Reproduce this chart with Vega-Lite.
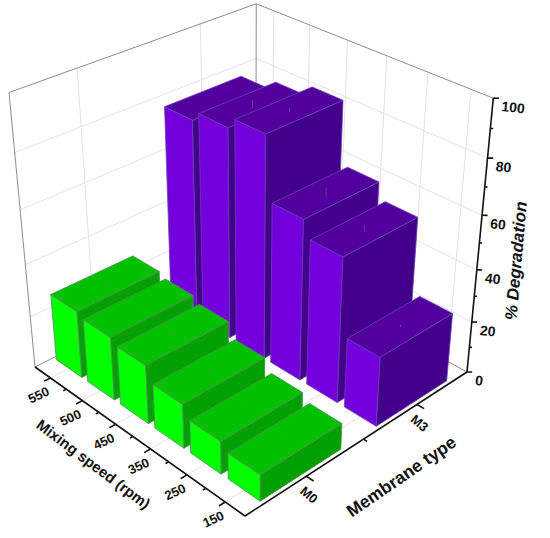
{"$schema":"https://vega.github.io/schema/vega-lite/v6.json","width":550,"height":538,"autosize":{"type":"fit","contains":"padding"},"padding":0,"background":"white","config":{"view":{"stroke":null}},
"datasets":{
"bars":[
{"membrane":"M3","speed":550,"degradation":76.5,"error":1.5},{"membrane":"M3","speed":500,"degradation":80,"error":1.5},{"membrane":"M3","speed":450,"degradation":84,"error":0.8},{"membrane":"M3","speed":350,"degradation":61,"error":1.8},{"membrane":"M3","speed":250,"degradation":55,"error":1.3},{"membrane":"M3","speed":150,"degradation":26.6,"error":0.5},
{"membrane":"M0","speed":550,"degradation":26,"error":0.8},{"membrane":"M0","speed":500,"degradation":24.5,"error":0.8},{"membrane":"M0","speed":450,"degradation":22.5,"error":0.8},{"membrane":"M0","speed":350,"degradation":17,"error":0.8},{"membrane":"M0","speed":250,"degradation":12.5,"error":0.6},{"membrane":"M0","speed":150,"degradation":10,"error":0.3}],
"guides":[
{"kind":"grid","a0":1,"b0":0,"z0":0.2,"a1":1,"b1":1,"z1":0.2},{"kind":"grid","a0":1,"b0":0,"z0":0.4,"a1":1,"b1":1,"z1":0.4},{"kind":"grid","a0":1,"b0":0,"z0":0.6,"a1":1,"b1":1,"z1":0.6},{"kind":"grid","a0":1,"b0":0,"z0":0.8,"a1":1,"b1":1,"z1":0.8},
{"kind":"grid","a0":0,"b0":1,"z0":0.2,"a1":1,"b1":1,"z1":0.2},{"kind":"grid","a0":0,"b0":1,"z0":0.4,"a1":1,"b1":1,"z1":0.4},{"kind":"grid","a0":0,"b0":1,"z0":0.6,"a1":1,"b1":1,"z1":0.6},{"kind":"grid","a0":0,"b0":1,"z0":0.8,"a1":1,"b1":1,"z1":0.8},
{"kind":"grid","a0":1,"b0":0.25,"z0":0,"a1":1,"b1":0.25,"z1":1},{"kind":"grid","a0":1,"b0":0.75,"z0":0,"a1":1,"b1":0.75,"z1":1},
{"kind":"grid","a0":0.0833,"b0":1,"z0":0,"a1":0.0833,"b1":1,"z1":1},{"kind":"grid","a0":0.25,"b0":1,"z0":0,"a1":0.25,"b1":1,"z1":1},{"kind":"grid","a0":0.4167,"b0":1,"z0":0,"a1":0.4167,"b1":1,"z1":1},{"kind":"grid","a0":0.5833,"b0":1,"z0":0,"a1":0.5833,"b1":1,"z1":1},{"kind":"grid","a0":0.75,"b0":1,"z0":0,"a1":0.75,"b1":1,"z1":1},{"kind":"grid","a0":0.9167,"b0":1,"z0":0,"a1":0.9167,"b1":1,"z1":1},
{"kind":"grid","a0":0.0833,"b0":0,"z0":0,"a1":0.0833,"b1":1,"z1":0},{"kind":"grid","a0":0.25,"b0":0,"z0":0,"a1":0.25,"b1":1,"z1":0},{"kind":"grid","a0":0.4167,"b0":0,"z0":0,"a1":0.4167,"b1":1,"z1":0},{"kind":"grid","a0":0.5833,"b0":0,"z0":0,"a1":0.5833,"b1":1,"z1":0},{"kind":"grid","a0":0.75,"b0":0,"z0":0,"a1":0.75,"b1":1,"z1":0},{"kind":"grid","a0":0.9167,"b0":0,"z0":0,"a1":0.9167,"b1":1,"z1":0},
{"kind":"grid","a0":0,"b0":0.25,"z0":0,"a1":1,"b1":0.25,"z1":0},{"kind":"grid","a0":0,"b0":0.75,"z0":0,"a1":1,"b1":0.75,"z1":0},
{"kind":"frame","a0":1,"b0":0,"z0":1,"a1":1,"b1":1,"z1":1},{"kind":"frame","a0":0,"b0":1,"z0":1,"a1":1,"b1":1,"z1":1},{"kind":"frame","a0":1,"b0":0,"z0":0,"a1":1,"b1":0,"z1":1},{"kind":"frame","a0":1,"b0":1,"z0":0,"a1":1,"b1":1,"z1":1},{"kind":"frame","a0":1,"b0":0,"z0":0,"a1":1,"b1":1,"z1":0},{"kind":"frame","a0":0,"b0":1,"z0":0,"a1":1,"b1":1,"z1":0},
{"kind":"axis","a0":0,"b0":0,"z0":0,"a1":1,"b1":0,"z1":0},{"kind":"axis","a0":0,"b0":0,"z0":0,"a1":0,"b1":1,"z1":0},{"kind":"axis","a0":0,"b0":1,"z0":0,"a1":0,"b1":1,"z1":1},
{"kind":"axis","a0":0.0833,"b0":0,"z0":0,"a1":0.0833,"b1":-0.025,"z1":0},{"kind":"axis","a0":0.25,"b0":0,"z0":0,"a1":0.25,"b1":-0.025,"z1":0},{"kind":"axis","a0":0.4167,"b0":0,"z0":0,"a1":0.4167,"b1":-0.025,"z1":0},{"kind":"axis","a0":0.5833,"b0":0,"z0":0,"a1":0.5833,"b1":-0.025,"z1":0},{"kind":"axis","a0":0.75,"b0":0,"z0":0,"a1":0.75,"b1":-0.025,"z1":0},{"kind":"axis","a0":0.9167,"b0":0,"z0":0,"a1":0.9167,"b1":-0.025,"z1":0},
{"kind":"axis","a0":0.1667,"b0":0,"z0":0,"a1":0.1667,"b1":-0.012,"z1":0},{"kind":"axis","a0":0.3333,"b0":0,"z0":0,"a1":0.3333,"b1":-0.012,"z1":0},{"kind":"axis","a0":0.5,"b0":0,"z0":0,"a1":0.5,"b1":-0.012,"z1":0},{"kind":"axis","a0":0.6667,"b0":0,"z0":0,"a1":0.6667,"b1":-0.012,"z1":0},{"kind":"axis","a0":0.8333,"b0":0,"z0":0,"a1":0.8333,"b1":-0.012,"z1":0},
{"kind":"axis","a0":0,"b0":0.25,"z0":0,"a1":-0.03,"b1":0.25,"z1":0},{"kind":"axis","a0":0,"b0":0.75,"z0":0,"a1":-0.03,"b1":0.75,"z1":0},{"kind":"axis","a0":0,"b0":0.5,"z0":0,"a1":-0.015,"b1":0.5,"z1":0},
{"kind":"axis","a0":0,"b0":1,"z0":0,"a1":-0.012,"b1":1.012,"z1":0},{"kind":"axis","a0":0,"b0":1,"z0":0.2,"a1":-0.012,"b1":1.012,"z1":0.2},{"kind":"axis","a0":0,"b0":1,"z0":0.4,"a1":-0.012,"b1":1.012,"z1":0.4},{"kind":"axis","a0":0,"b0":1,"z0":0.6,"a1":-0.012,"b1":1.012,"z1":0.6},{"kind":"axis","a0":0,"b0":1,"z0":0.8,"a1":-0.012,"b1":1.012,"z1":0.8},{"kind":"axis","a0":0,"b0":1,"z0":1,"a1":-0.012,"b1":1.012,"z1":1},
{"kind":"axis","a0":0,"b0":1,"z0":0.1,"a1":-0.006,"b1":1.006,"z1":0.1},{"kind":"axis","a0":0,"b0":1,"z0":0.3,"a1":-0.006,"b1":1.006,"z1":0.3},{"kind":"axis","a0":0,"b0":1,"z0":0.5,"a1":-0.006,"b1":1.006,"z1":0.5},{"kind":"axis","a0":0,"b0":1,"z0":0.7,"a1":-0.006,"b1":1.006,"z1":0.7},{"kind":"axis","a0":0,"b0":1,"z0":0.9,"a1":-0.006,"b1":1.006,"z1":0.9}],
"labels":[
{"group":"speed","label":"150","a":0.0833,"b":0,"z":0},{"group":"speed","label":"250","a":0.25,"b":0,"z":0},{"group":"speed","label":"350","a":0.4167,"b":0,"z":0},{"group":"speed","label":"450","a":0.5833,"b":0,"z":0},{"group":"speed","label":"500","a":0.75,"b":0,"z":0},{"group":"speed","label":"550","a":0.9167,"b":0,"z":0},
{"group":"membrane","label":"M0","a":0,"b":0.25,"z":0},{"group":"membrane","label":"M3","a":0,"b":0.75,"z":0},
{"group":"deg","label":"0","a":0,"b":1,"z":0},{"group":"deg","label":"20","a":0,"b":1,"z":0.2},{"group":"deg","label":"40","a":0,"b":1,"z":0.4},{"group":"deg","label":"60","a":0,"b":1,"z":0.6},{"group":"deg","label":"80","a":0,"b":1,"z":0.8},{"group":"deg","label":"100","a":0,"b":1,"z":1},
{"group":"titleSpeed","label":"Mixing speed (rpm)","a":0.48,"b":-0.17,"z":0},{"group":"titleMembrane","label":"Membrane type","a":-0.2,"b":0.45,"z":0},{"group":"titleDeg","label":"% Degradation","a":-0.09,"b":1.08,"z":0.44}]
},
"layer":[
{"data":{"name":"guides"},"transform":[{"filter":"datum.kind=='grid'"},
{"calculate":"(245-204.9*datum.a0+289.7*datum.b0-30.9*datum.z0)/(1+0.145*datum.a0+0.145*datum.b0-0.1237*datum.z0)","as":"px0"},
{"calculate":"(516-95.8*datum.a0-90.06*datum.b0-325.7*datum.z0)/(1+0.145*datum.a0+0.145*datum.b0-0.1237*datum.z0)","as":"py0"},
{"calculate":"(245-204.9*datum.a1+289.7*datum.b1-30.9*datum.z1)/(1+0.145*datum.a1+0.145*datum.b1-0.1237*datum.z1)","as":"px1"},
{"calculate":"(516-95.8*datum.a1-90.06*datum.b1-325.7*datum.z1)/(1+0.145*datum.a1+0.145*datum.b1-0.1237*datum.z1)","as":"py1"}],
"mark":{"type":"rule","stroke":"#e2e2e2","strokeWidth":1},
"encoding":{"x":{"field":"px0","type":"quantitative","scale":{"domain":[0,550],"nice":false,"zero":false},"axis":null},"y":{"field":"py0","type":"quantitative","scale":{"domain":[538,0],"nice":false,"zero":false},"axis":null},"x2":{"field":"px1"},"y2":{"field":"py1"}}},
{"data":{"name":"guides"},"transform":[{"filter":"datum.kind=='frame'"},
{"calculate":"(245-204.9*datum.a0+289.7*datum.b0-30.9*datum.z0)/(1+0.145*datum.a0+0.145*datum.b0-0.1237*datum.z0)","as":"px0"},
{"calculate":"(516-95.8*datum.a0-90.06*datum.b0-325.7*datum.z0)/(1+0.145*datum.a0+0.145*datum.b0-0.1237*datum.z0)","as":"py0"},
{"calculate":"(245-204.9*datum.a1+289.7*datum.b1-30.9*datum.z1)/(1+0.145*datum.a1+0.145*datum.b1-0.1237*datum.z1)","as":"px1"},
{"calculate":"(516-95.8*datum.a1-90.06*datum.b1-325.7*datum.z1)/(1+0.145*datum.a1+0.145*datum.b1-0.1237*datum.z1)","as":"py1"}],
"mark":{"type":"rule","stroke":"#8c8c8c","strokeWidth":1},
"encoding":{"x":{"field":"px0","type":"quantitative","axis":null},"y":{"field":"py0","type":"quantitative","axis":null},"x2":{"field":"px1"},"y2":{"field":"py1"}}},
{"data":{"name":"bars"},"transform":[
{"calculate":"indexof([150,250,350,450,500,550],datum.speed)","as":"i"},
{"calculate":"datum.membrane=='M0'?0:1","as":"m"},
{"calculate":"(datum.i+0.5)/6-0.068","as":"a0"},{"calculate":"(datum.i+0.5)/6+0.068","as":"a1"},
{"calculate":"0.245+0.5*datum.m-0.17","as":"b0"},{"calculate":"0.245+0.5*datum.m+0.17","as":"b1"},
{"calculate":"['left','right','top']","as":"face"},{"flatten":["face"]},
{"calculate":"[0,1,2,3]","as":"v"},{"flatten":["v"]},
{"calculate":"datum.face=='right'?datum.a0:((datum.v==1||datum.v==2)?datum.a1:datum.a0)","as":"A"},
{"calculate":"datum.face=='left'?datum.b0:(datum.face=='right'?((datum.v==1||datum.v==2)?datum.b1:datum.b0):(datum.v>=2?datum.b1:datum.b0))","as":"B"},
{"calculate":"datum.face=='top'?datum.degradation/100:(datum.v>=2?datum.degradation/100:0)","as":"Z"},
{"calculate":"(245-204.9*datum.A+289.7*datum.B-30.9*datum.Z)/(1+0.145*datum.A+0.145*datum.B-0.1237*datum.Z)","as":"px"},
{"calculate":"(516-95.8*datum.A-90.06*datum.B-325.7*datum.Z)/(1+0.145*datum.A+0.145*datum.B-0.1237*datum.Z)","as":"py"},
{"calculate":"datum.membrane+' '+datum.face","as":"shade"},
{"calculate":"datum.membrane+' '+datum.speed+' '+datum.face","as":"poly"}],
"mark":{"type":"line","interpolate":"linear-closed","strokeWidth":0.8,"strokeJoin":"round"},
"encoding":{"x":{"field":"px","type":"quantitative","axis":null},"y":{"field":"py","type":"quantitative","axis":null},"order":{"field":"v","type":"quantitative"},"detail":{"field":"poly"},
"fill":{"field":"shade","type":"nominal","legend":null,"scale":{"domain":["M0 left","M0 right","M0 top","M3 left","M3 right","M3 top"],"range":["#00ff00","#00a000","#00c000","#7300dc","#43008a","#52009e"]}},
"stroke":{"field":"membrane","type":"nominal","legend":null,"scale":{"domain":["M0","M3"],"range":["#4f8f4f","#6a40b4"]}}}},
{"data":{"name":"bars"},"transform":[
{"calculate":"(indexof([150,250,350,450,500,550],datum.speed)+0.5)/6","as":"A"},
{"calculate":"datum.membrane=='M0'?0.245:0.745","as":"B"},
{"calculate":"(datum.degradation-datum.error)/100","as":"Z0"},{"calculate":"(datum.degradation+datum.error)/100","as":"Z1"},
{"calculate":"(245-204.9*datum.A+289.7*datum.B-30.9*datum.Z0)/(1+0.145*datum.A+0.145*datum.B-0.1237*datum.Z0)","as":"px0"},
{"calculate":"(516-95.8*datum.A-90.06*datum.B-325.7*datum.Z0)/(1+0.145*datum.A+0.145*datum.B-0.1237*datum.Z0)","as":"py0"},
{"calculate":"(516-95.8*datum.A-90.06*datum.B-325.7*datum.Z1)/(1+0.145*datum.A+0.145*datum.B-0.1237*datum.Z1)","as":"py1"},
{"filter":"datum.speed<=500||datum.membrane=='M0'"}],
"mark":{"type":"rule","strokeWidth":0.8},
"encoding":{"x":{"field":"px0","type":"quantitative","axis":null},"y":{"field":"py0","type":"quantitative","axis":null},"y2":{"field":"py1"},"stroke":{"field":"membrane","type":"nominal","legend":null}}},
{"data":{"name":"guides"},"transform":[{"filter":"datum.kind=='axis'"},
{"calculate":"(245-204.9*datum.a0+289.7*datum.b0-30.9*datum.z0)/(1+0.145*datum.a0+0.145*datum.b0-0.1237*datum.z0)","as":"px0"},
{"calculate":"(516-95.8*datum.a0-90.06*datum.b0-325.7*datum.z0)/(1+0.145*datum.a0+0.145*datum.b0-0.1237*datum.z0)","as":"py0"},
{"calculate":"(245-204.9*datum.a1+289.7*datum.b1-30.9*datum.z1)/(1+0.145*datum.a1+0.145*datum.b1-0.1237*datum.z1)","as":"px1"},
{"calculate":"(516-95.8*datum.a1-90.06*datum.b1-325.7*datum.z1)/(1+0.145*datum.a1+0.145*datum.b1-0.1237*datum.z1)","as":"py1"}],
"mark":{"type":"rule","stroke":"#111111","strokeWidth":1.6},
"encoding":{"x":{"field":"px0","type":"quantitative","axis":null},"y":{"field":"py0","type":"quantitative","axis":null},"x2":{"field":"px1"},"y2":{"field":"py1"}}},
{"data":{"name":"labels"},"transform":[{"filter":"datum.group=='speed'"},
{"calculate":"(245-204.9*datum.a+289.7*datum.b-30.9*datum.z)/(1+0.145*datum.a+0.145*datum.b-0.1237*datum.z)","as":"px"},
{"calculate":"(516-95.8*datum.a-90.06*datum.b-325.7*datum.z)/(1+0.145*datum.a+0.145*datum.b-0.1237*datum.z)","as":"py"}],
"mark":{"type":"text","font":"Liberation Sans","fontWeight":"bold","fontSize":13,"angle":335,"baseline":"middle","dx":-18,"dy":11,"fill":"#111111"},
"encoding":{"x":{"field":"px","type":"quantitative","axis":null},"y":{"field":"py","type":"quantitative","axis":null},"text":{"field":"label"}}},
{"data":{"name":"labels"},"transform":[{"filter":"datum.group=='membrane'"},
{"calculate":"(245-204.9*datum.a+289.7*datum.b-30.9*datum.z)/(1+0.145*datum.a+0.145*datum.b-0.1237*datum.z)","as":"px"},
{"calculate":"(516-95.8*datum.a-90.06*datum.b-325.7*datum.z)/(1+0.145*datum.a+0.145*datum.b-0.1237*datum.z)","as":"py"}],
"mark":{"type":"text","font":"Liberation Sans","fontWeight":"bold","fontSize":13,"angle":40,"baseline":"middle","dx":14,"dy":13,"fill":"#111111"},
"encoding":{"x":{"field":"px","type":"quantitative","axis":null},"y":{"field":"py","type":"quantitative","axis":null},"text":{"field":"label"}}},
{"data":{"name":"labels"},"transform":[{"filter":"datum.group=='deg'"},
{"calculate":"(245-204.9*datum.a+289.7*datum.b-30.9*datum.z)/(1+0.145*datum.a+0.145*datum.b-0.1237*datum.z)","as":"px"},
{"calculate":"(516-95.8*datum.a-90.06*datum.b-325.7*datum.z)/(1+0.145*datum.a+0.145*datum.b-0.1237*datum.z)","as":"py"}],
"mark":{"type":"text","font":"Liberation Sans","fontWeight":"bold","fontSize":14,"angle":6,"align":"left","baseline":"middle","dx":9,"dy":8,"fill":"#111111"},
"encoding":{"x":{"field":"px","type":"quantitative","axis":null},"y":{"field":"py","type":"quantitative","axis":null},"text":{"field":"label"}}},
{"data":{"name":"labels"},"transform":[{"filter":"datum.group=='titleSpeed'"},
{"calculate":"(245-204.9*datum.a+289.7*datum.b-30.9*datum.z)/(1+0.145*datum.a+0.145*datum.b-0.1237*datum.z)","as":"px"},
{"calculate":"(516-95.8*datum.a-90.06*datum.b-325.7*datum.z)/(1+0.145*datum.a+0.145*datum.b-0.1237*datum.z)","as":"py"}],
"mark":{"type":"text","font":"Liberation Sans","fontWeight":"bold","fontSize":15,"angle":37,"baseline":"middle","fill":"#111111"},
"encoding":{"x":{"field":"px","type":"quantitative","axis":null},"y":{"field":"py","type":"quantitative","axis":null},"text":{"field":"label"}}},
{"data":{"name":"labels"},"transform":[{"filter":"datum.group=='titleMembrane'"},
{"calculate":"(245-204.9*datum.a+289.7*datum.b-30.9*datum.z)/(1+0.145*datum.a+0.145*datum.b-0.1237*datum.z)","as":"px"},
{"calculate":"(516-95.8*datum.a-90.06*datum.b-325.7*datum.z)/(1+0.145*datum.a+0.145*datum.b-0.1237*datum.z)","as":"py"}],
"mark":{"type":"text","font":"Liberation Sans","fontWeight":"bold","fontSize":17.5,"angle":325.5,"baseline":"middle","fill":"#111111"},
"encoding":{"x":{"field":"px","type":"quantitative","axis":null},"y":{"field":"py","type":"quantitative","axis":null},"text":{"field":"label"}}},
{"data":{"name":"labels"},"transform":[{"filter":"datum.group=='titleDeg'"},
{"calculate":"(245-204.9*datum.a+289.7*datum.b-30.9*datum.z)/(1+0.145*datum.a+0.145*datum.b-0.1237*datum.z)","as":"px"},
{"calculate":"(516-95.8*datum.a-90.06*datum.b-325.7*datum.z)/(1+0.145*datum.a+0.145*datum.b-0.1237*datum.z)","as":"py"}],
"mark":{"type":"text","font":"Liberation Sans","fontWeight":"bold","fontStyle":"italic","fontSize":17,"angle":275,"baseline":"middle","fill":"#111111"},
"encoding":{"x":{"field":"px","type":"quantitative","axis":null},"y":{"field":"py","type":"quantitative","axis":null},"text":{"field":"label"}}}
]}
